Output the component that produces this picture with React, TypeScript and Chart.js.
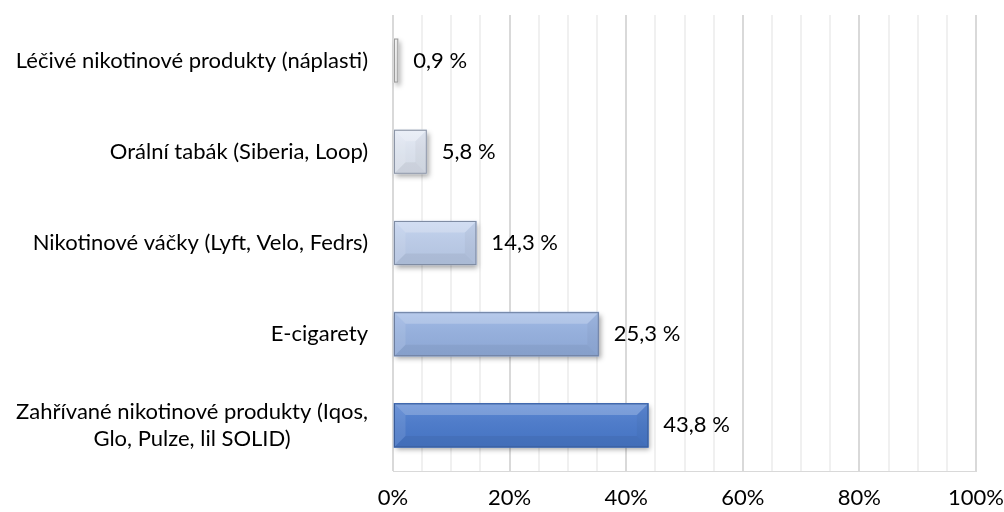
import React, { useEffect, useRef } from "react";
import { Chart, registerables } from "chart.js";

Chart.register(...registerables);

const categories: string[][] = [
  ["Léčivé nikotinové produkty (náplasti)"],
  ["Orální tabák (Siberia, Loop)"],
  ["Nikotinové váčky (Lyft, Velo, Fedrs)"],
  ["E-cigarety"],
  ["Zahřívané nikotinové produkty (Iqos,", "Glo, Pulze, lil SOLID)"],
];
const barValues = [0.9, 5.8, 14.3, 35.3, 43.8];
const valueLabels = ["0,9 %", "5,8 %", "14,3 %", "25,3 %", "43,8 %"];
const xTickValues = [0, 20, 40, 60, 80, 100];

const barColors = ["#f0f0f0", "#e2e9f5", "#bfd0ee", "#97b3e3", "#4a7bcf"];
const barBorders = ["#9c9c9c", "#8c95a6", "#7f8ca3", "#6e7f9f", "#3a5d9a"];

const FONT = "Lato, 'Noto Sans', sans-serif";
const FONT_SIZE = 22;

const bevelPlugin = {
  id: "bevel",
  beforeDatasetsDraw(chart: any) {
    const ctx = chart.ctx;
    const meta = chart.getDatasetMeta(0);
    meta.data.forEach((bar: any) => {
      const x0 = Math.min(bar.base, bar.x);
      const x1 = Math.max(bar.base, bar.x);
      const y0 = bar.y - bar.height / 2;
      ctx.save();
      ctx.shadowColor = "rgba(0,0,0,0.35)";
      ctx.shadowBlur = 5;
      ctx.shadowOffsetX = 2;
      ctx.shadowOffsetY = 3;
      ctx.fillStyle = "#999";
      ctx.fillRect(x0, y0, x1 - x0, bar.height);
      ctx.restore();
    });
  },
  afterDatasetsDraw(chart: any) {
    const ctx = chart.ctx;
    const meta = chart.getDatasetMeta(0);
    meta.data.forEach((bar: any, i: number) => {
      const x0 = Math.min(bar.base, bar.x) + 0.5;
      const x1 = Math.max(bar.base, bar.x) - 0.5;
      const y0 = bar.y - bar.height / 2 + 0.5;
      const y1 = bar.y + bar.height / 2 - 0.5;
      const b = Math.min(11, (x1 - x0) / 2, (y1 - y0) / 2);
      ctx.save();
      const g = ctx.createLinearGradient(0, y0, 0, y1);
      g.addColorStop(0, "rgba(255,255,255,0.10)");
      g.addColorStop(1, "rgba(0,0,0,0.06)");
      ctx.fillStyle = g;
      ctx.fillRect(x0, y0, x1 - x0, y1 - y0);
      ctx.beginPath();
      ctx.moveTo(x0, y0);
      ctx.lineTo(x1, y0);
      ctx.lineTo(x1 - b, y0 + b);
      ctx.lineTo(x0 + b, y0 + b);
      ctx.closePath();
      ctx.fillStyle = "rgba(255,255,255,0.22)";
      ctx.fill();
      ctx.beginPath();
      ctx.moveTo(x0, y1);
      ctx.lineTo(x1, y1);
      ctx.lineTo(x1 - b, y1 - b);
      ctx.lineTo(x0 + b, y1 - b);
      ctx.closePath();
      ctx.fillStyle = "rgba(0,0,0,0.05)";
      ctx.fill();
      ctx.beginPath();
      ctx.moveTo(x1, y0);
      ctx.lineTo(x1, y1);
      ctx.lineTo(x1 - b, y1 - b);
      ctx.lineTo(x1 - b, y0 + b);
      ctx.closePath();
      ctx.fillStyle = "rgba(0,0,0,0.03)";
      ctx.fill();
      ctx.beginPath();
      ctx.moveTo(x0, y0);
      ctx.lineTo(x0, y1);
      ctx.lineTo(x0 + b, y1 - b);
      ctx.lineTo(x0 + b, y0 + b);
      ctx.closePath();
      ctx.fillStyle = "rgba(255,255,255,0.10)";
      ctx.fill();
      ctx.strokeStyle = barBorders[i];
      ctx.lineWidth = 1;
      ctx.strokeRect(x0, y0, x1 - x0, y1 - y0);
      ctx.restore();

      ctx.save();
      ctx.font = `${FONT_SIZE}px ${FONT}`;
      ctx.fillStyle = "#000";
      ctx.textAlign = "left";
      ctx.textBaseline = "middle";
      ctx.fillText(valueLabels[i], Math.max(bar.base, bar.x) + 15, bar.y);
      ctx.restore();
    });
  },
  afterDraw(chart: any) {
    const ctx = chart.ctx;
    const yScale = chart.scales.y;
    ctx.save();
    ctx.font = `${FONT_SIZE}px ${FONT}`;
    ctx.fillStyle = "#000";
    ctx.textBaseline = "middle";
    ctx.textAlign = "center";
    const rightEdge = 368;
    const lineH = 27;
    categories.forEach((lines, i) => {
      const cy = yScale.getPixelForValue(i);
      const w = Math.max(...lines.map((l) => ctx.measureText(l).width));
      const cx = rightEdge - w / 2;
      lines.forEach((line, j) => {
        const ly = cy + (j - (lines.length - 1) / 2) * lineH;
        ctx.fillText(line, cx, ly);
      });
    });
    ctx.restore();
  },
};

export default function App() {
  const ref = useRef<HTMLCanvasElement>(null);
  useEffect(() => {
    const canvas = ref.current!;
    const chart = new Chart(canvas, {
      type: "bar",
      data: {
        labels: categories.map((c) => c.join(" ")),
        datasets: [
          {
            data: barValues,
            backgroundColor: barColors,
            borderWidth: 0,
            barThickness: 44,
          },
        ],
      },
      options: {
        indexAxis: "y",
        responsive: false,
        animation: false,
        layout: { padding: { top: 15, right: 28, left: 0, bottom: 0 } },
        plugins: {
          legend: { display: false },
          tooltip: { enabled: false },
        },
        scales: {
          x: {
            min: 0,
            max: 100,
            afterBuildTicks(scale: any) {
              const t: any[] = [];
              for (let v = 0; v <= 100; v += 5) t.push({ value: v });
              scale.ticks = t;
            },
            afterFit(scale: any) {
              scale.height = 41;
              scale.paddingLeft = 0;
              scale.paddingRight = 0;
            },
            ticks: {
              autoSkip: false,
              maxRotation: 0,
              padding: 14,
              color: "#000",
              font: { family: FONT, size: FONT_SIZE },
              callback: (v: any) =>
                xTickValues.includes(Number(v)) ? `${v}%` : "",
            },
            grid: {
              drawTicks: false,
              lineWidth: 2,
              color: (c: any) =>
                c.tick && c.tick.value % 20 === 0 ? "#d9d9d9" : "#f0f0f0",
            },
            border: { display: true, color: "#d9d9d9", width: 1 },
          },
          y: {
            ticks: { display: false },
            afterFit(scale: any) {
              scale.width = 393;
            },
            grid: { display: false, drawTicks: false },
            border: { display: false },
          },
        },
      },
      plugins: [bevelPlugin],
    });
    return () => chart.destroy();
  }, []);
  return (
    <div style={{ position: "fixed", left: 0, top: 0, width: 1004, height: 512, background: "#fff" }}>
      <canvas ref={ref} width={1004} height={512} />
    </div>
  );
}
